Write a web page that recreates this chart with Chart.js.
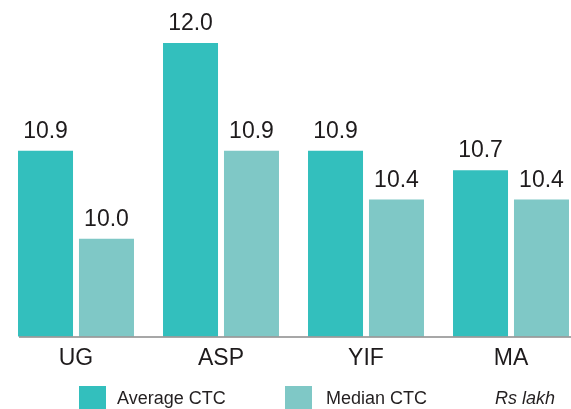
<!DOCTYPE html>
<html>
<head>
<meta charset="utf-8">
<script src="https://cdn.jsdelivr.net/npm/chart.js@4"></script>
<style>
  html, body { margin: 0; padding: 0; background: #fff; overflow: hidden; width: 571px; height: 409px; }
  #wrap { position: absolute; left: 0; top: 0; width: 571px; height: 409px; overflow: hidden; }
  .legend { position: absolute; font-family: "Liberation Sans", Arial, sans-serif; font-size: 18px; color: #231f20; }
  .box { position: absolute; width: 27px; height: 27px; }
</style>
</head>
<body>
<div id="wrap"><canvas id="myChart" width="600" height="409"></canvas></div>
<div class="box" style="left:79px; top:386px; background:#33bfbd;"></div>
<div class="legend" style="left:117px; top:388px;">Average CTC</div>
<div class="box" style="left:285px; top:386px; background:#7fc8c6;"></div>
<div class="legend" style="left:326px; top:388px;">Median CTC</div>
<div class="legend" style="left:495px; top:388px; font-style:italic;">Rs lakh</div>
<script>
// DADES
let categories = ["UG", "ASP", "YIF", "MA"];
let averageCTC = [10.9, 12.0, 10.9, 10.7];
let medianCTC = [10.0, 10.9, 10.4, 10.4];
let colorAverage = "#33bfbd";
let colorMedian = "#7fc8c6";

// Etiquetes de valor damunt de cada barra
const valueLabels = {
  id: "valueLabels",
  afterDatasetsDraw(chart) {
    const ctx = chart.ctx;
    ctx.save();
    ctx.font = "23px 'Liberation Sans', Arial, sans-serif";
    ctx.fillStyle = "#1e1b1c";
    ctx.textAlign = "center";
    ctx.textBaseline = "alphabetic";
    chart.data.datasets.forEach((ds, i) => {
      chart.getDatasetMeta(i).data.forEach((bar, j) => {
        ctx.fillText(ds.data[j].toFixed(1), bar.x, bar.y - 13);
      });
    });
    ctx.restore();
  }
};

// Linia de l'eix, comença a la primera barra
const baseLine = {
  id: "baseLine",
  afterDatasetsDraw(chart) {
    const ctx = chart.ctx;
    const first = chart.getDatasetMeta(0).data[0];
    const y = chart.chartArea.bottom + 0.5;
    ctx.save();
    ctx.strokeStyle = "#8a8a8a";
    ctx.lineWidth = 1.5;
    ctx.beginPath();
    ctx.moveTo(first.x - first.width / 2 + 1, y);
    ctx.lineTo(chart.width, y);
    ctx.stroke();
    ctx.restore();
  }
};

const config = {
  type: "bar",
  data: {
    labels: categories,
    datasets: [{
      label: "Average CTC",
      data: averageCTC,
      backgroundColor: colorAverage,
      categoryPercentage: 0.841,
      barPercentage: 0.902
    },
    {
      label: "Median CTC",
      data: medianCTC,
      backgroundColor: colorMedian,
      categoryPercentage: 0.841,
      barPercentage: 0.902
    }]
  },
  options: {
    responsive: false,
    animation: false,
    layout: { padding: { left: 3.5, right: 16.5, top: 4, bottom: 0 } },
    plugins: {
      legend: { display: false },
      tooltip: { enabled: false }
    },
    scales: {
      x: {
        grid: { display: false, drawTicks: false },
        border: { display: false },
        ticks: {
          color: "#1e1b1c",
          padding: 8,
          font: { family: "'Liberation Sans', Arial, sans-serif", size: 23 }
        },
        afterFit: (scale) => { scale.height = 72.5; }
      },
      y: {
        display: false,
        min: 9.0,
        max: 12.4
      }
    }
  },
  plugins: [valueLabels, baseLine]
};

const ctx = document.getElementById("myChart").getContext("2d");
const myChart = new Chart(ctx, config);
</script>
</body>
</html>
